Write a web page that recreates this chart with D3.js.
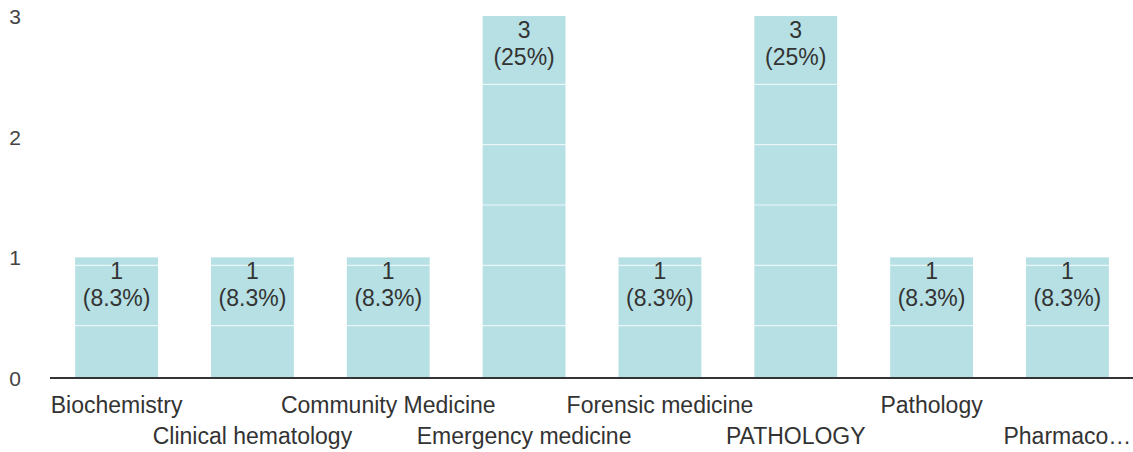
<!DOCTYPE html>
<html>
<head>
<meta charset="utf-8">
<script src="https://cdn.jsdelivr.net/npm/d3@7"></script>
<style>
  body { margin: 0; background: #fff; }
  text { font-family: "Liberation Sans", Arial, sans-serif; }
</style>
</head>
<body>
<div id="chart"></div>
<script>
const categories = ["Biochemistry", "Clinical hematology", "Community Medicine", "Emergency medicine",
  "Forensic medicine", "PATHOLOGY", "Pathology", "Pharmaco…"];
const counts = [1, 1, 1, 3, 1, 3, 1, 1];
const percents = ["8.3%", "8.3%", "8.3%", "25%", "8.3%", "25%", "8.3%", "8.3%"];
const yTicks = [0, 1, 2, 3];
const gridValues = [0.5, 1, 1.5, 2, 2.5];

const width = 1133, height = 452;

const svg = d3.select("#chart")
    .append("svg")
    .attr("width", width)
    .attr("height", height);

const x = d3.scaleBand()
    .domain(categories)
    .range([48, 1136])
    .paddingInner(0.39)
    .paddingOuter(0.2);

const y = d3.scaleLinear()
    .domain([0, 3])
    .range([378, 16]);

// bars
svg.selectAll(".bar")
    .data(categories)
    .enter()
    .append("rect")
    .attr("class", "bar")
    .attr("x", d => x(d))
    .attr("y", (d, i) => y(counts[i]))
    .attr("width", x.bandwidth())
    .attr("height", (d, i) => y(0) - y(counts[i]))
    .attr("fill", "#b6e0e3");

// white grid lines (only show over the bars)
svg.selectAll(".grid")
    .data(gridValues)
    .enter()
    .append("line")
    .attr("x1", 48)
    .attr("x2", width)
    .attr("y1", d => y(d) + 8)
    .attr("y2", d => y(d) + 8)
    .attr("stroke", "#fff")
    .attr("stroke-opacity", 0.7)
    .attr("stroke-width", 1.2);

// y tick labels
svg.selectAll(".ytick")
    .data(yTicks)
    .enter()
    .append("text")
    .attr("x", 15)
    .attr("y", d => y(d) + 8)
    .attr("text-anchor", "middle")
    .attr("fill", "#444")
    .style("font-size", "21px")
    .text(d => d);

// baseline
svg.append("line")
    .attr("x1", 50)
    .attr("x2", width)
    .attr("y1", y(0))
    .attr("y2", y(0))
    .attr("stroke", "#333")
    .attr("stroke-width", 2);

// value labels
const labels = svg.selectAll(".val")
    .data(categories)
    .enter()
    .append("text")
    .attr("class", "val")
    .attr("text-anchor", "middle")
    .attr("fill", "#333")
    .style("font-size", "23px");

labels.append("tspan")
    .attr("x", d => x(d) + x.bandwidth() / 2)
    .attr("y", (d, i) => y(counts[i]) + 22)
    .text((d, i) => counts[i]);

labels.append("tspan")
    .attr("x", d => x(d) + x.bandwidth() / 2)
    .attr("y", (d, i) => y(counts[i]) + 49)
    .text((d, i) => "(" + percents[i] + ")");

// category labels, staggered in two rows
svg.selectAll(".xlabel")
    .data(categories)
    .enter()
    .append("text")
    .attr("class", "xlabel")
    .attr("x", d => x(d) + x.bandwidth() / 2)
    .attr("y", (d, i) => i % 2 === 0 ? 413 : 444)
    .attr("text-anchor", "middle")
    .attr("fill", "#333")
    .style("font-size", "23px")
    .text(d => d);
</script>
</body>
</html>
